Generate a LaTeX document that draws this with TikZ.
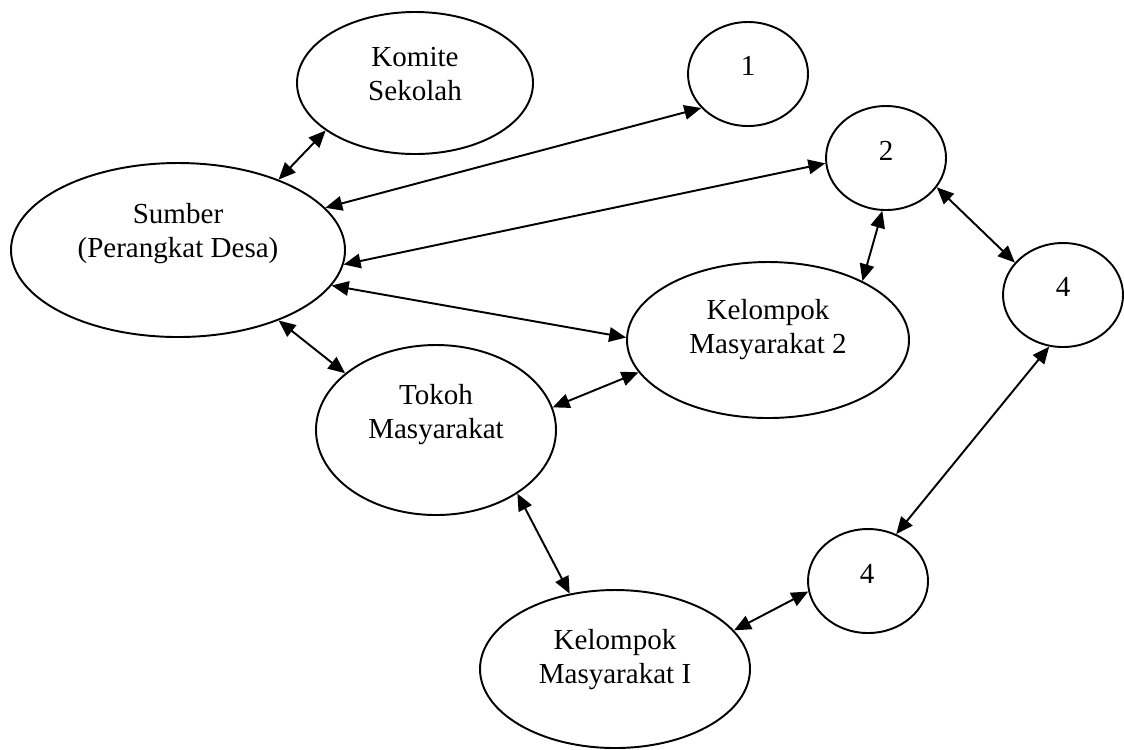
\documentclass[tikz,border=0pt]{standalone}
\usepackage{fontspec}
\setmainfont{Liberation Serif}
\usetikzlibrary{arrows.meta,shapes.geometric}
\newcommand{\pxu}{0.4132pt}

\begin{document}
\begin{tikzpicture}[
    x=\pxu, y=-\pxu,
    oval/.style={ellipse, draw, line width=0.8pt, inner sep=0pt},
    small/.style={oval, minimum width=120*\pxu, minimum height=104*\pxu},
    txt/.style={font=\fontsize{12}{14}\selectfont, align=center, anchor=base, inner sep=0pt},
    arrow/.style={{Triangle[length=7pt,width=6pt]}-{Triangle[length=7pt,width=6pt]}, line width=0.8pt}
]
\useasboundingbox (0,0) rectangle (1124,749);

\node[oval, minimum width=236*\pxu, minimum height=142*\pxu] (komite) at (415,83) {};
\node[oval, minimum width=334*\pxu, minimum height=174*\pxu] (sumber) at (178,250) {};
\node[oval, minimum width=282*\pxu, minimum height=156*\pxu] (km2) at (768,340) {};
\node[oval, minimum width=240*\pxu, minimum height=170*\pxu] (tokoh) at (436,430) {};
\node[oval, minimum width=270*\pxu, minimum height=158*\pxu] (km1) at (615,669) {};
\node[small] (satu) at (748,74) {};
\node[small] (dua) at (886,158) {};
\node[small] (empata) at (1063,295) {};
\node[small] (empatb) at (868,581) {};

\node[txt] (komite-t) at (415,100) {Komite\\Sekolah};
\node[txt] (sumber-t) at (178,257) {Sumber\\(Perangkat Desa)};
\node[txt] (km2-t) at (768,353) {Kelompok\\Masyarakat 2};
\node[txt] (tokoh-t) at (436,438) {Tokoh\\Masyarakat};
\node[txt] (km1-t) at (615,683) {Kelompok\\Masyarakat I};
\node[txt] (satu-t) at (748,75) {1};
\node[txt] (dua-t) at (886,160) {2};
\node[txt] (empata-t) at (1063,296) {4};
\node[txt] (empatb-t) at (867,583) {4};

\draw[arrow] (komite.208) -- (sumber.35);
\draw[arrow] (satu.216) -- (sumber.16);
\draw[arrow] (dua.185) -- (sumber.355);
\draw[arrow] (sumber.347) -- (km2.179);
\draw[arrow] (sumber.325) -- (tokoh.148);
\draw[arrow] (dua.266) -- (km2.32);
\draw[arrow] (dua.330) -- (empata.146);
\draw[arrow] (tokoh.11) -- (km2.194);
\draw[arrow] (tokoh.322) -- (km1.121);
\draw[arrow] (empata.255) -- (empatb.59);
\draw[arrow] (empatb.190) -- (km1.18);
\end{tikzpicture}
\end{document}
